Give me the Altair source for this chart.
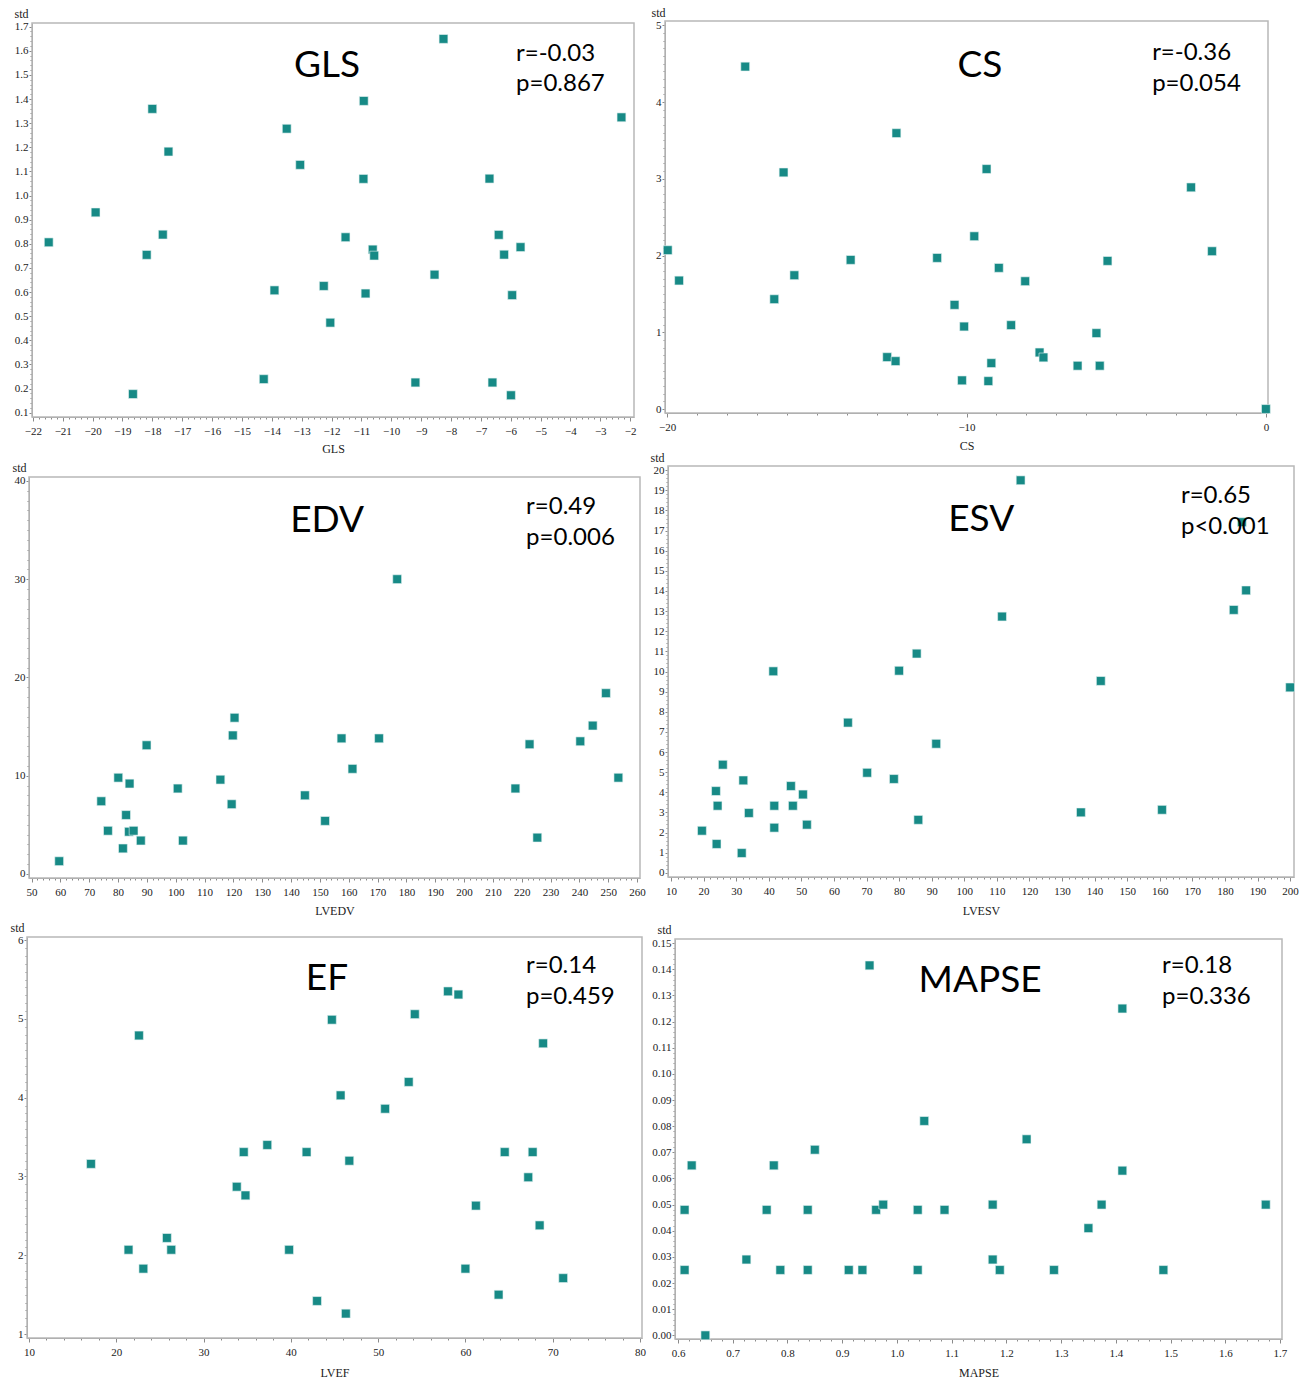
import altair as alt
import pandas as pd

W, H = 1309, 1380
TEAL = "#178a86"

# ---------------- data ----------------
gls_x = [-21.47, -19.9, -18.65, -18.19, -18.0, -17.65, -17.46, -14.27, -13.91, -13.5,
         -13.05, -12.26, -12.04, -11.53, -10.92, -10.93, -10.86, -10.62, -10.57, -9.19,
         -8.55, -8.25, -6.71, -6.61, -6.4, -6.22, -5.99, -5.95, -5.67, -2.29]
gls_std = [0.806, 0.93, 0.177, 0.754, 1.359, 0.838, 1.182, 0.239, 0.607, 1.277,
           1.127, 0.625, 0.473, 0.827, 1.392, 1.069, 0.594, 0.776, 0.751, 0.225,
           0.672, 1.649, 1.070, 0.225, 0.837, 0.755, 0.172, 0.587, 0.786, 1.324]

cs_x = [-19.98, -19.6, -17.39, -16.42, -16.11, -15.75, -13.87, -12.65, -12.37, -12.34,
        -10.98, -10.4, -10.15, -10.08, -9.74, -9.33, -9.27, -9.17, -8.92, -8.51,
        -8.04, -7.56, -7.43, -6.29, -5.66, -5.55, -5.29, -2.5, -1.8, 0.0]
cs_std = [2.07, 1.674, 4.462, 1.431, 3.083, 1.743, 1.943, 0.676, 0.624, 3.595,
          1.969, 1.357, 0.373, 1.075, 2.251, 3.127, 0.364, 0.598, 1.839, 1.093,
          1.665, 0.737, 0.672, 0.564, 0.989, 0.564, 1.93, 2.888, 2.056, 0.0]

edv_x = [59.6, 74.2, 76.5, 80.1, 81.7, 82.8, 84.0, 83.8, 85.4, 87.9,
         89.9, 100.7, 102.5, 115.5, 119.4, 119.8, 120.4, 144.8, 151.8, 157.5,
         161.3, 170.5, 176.8, 217.8, 222.7, 225.4, 240.3, 244.6, 249.2, 253.5]
edv_std = [1.3, 7.4, 4.4, 9.8, 2.6, 6.0, 9.2, 4.3, 4.4, 3.4,
           13.1, 8.7, 3.4, 9.6, 7.1, 14.1, 15.9, 8.0, 5.4, 13.8,
           10.7, 13.8, 30.0, 8.7, 13.2, 3.7, 13.5, 15.1, 18.4, 9.8]

esv_x = [19.5, 23.8, 24.3, 24.0, 25.9, 31.7, 32.2, 33.9, 41.4, 41.7, 41.7,
         46.8, 47.4, 50.5, 51.7, 64.3, 70.2, 78.4, 80.0, 85.4, 85.9, 91.4,
         111.6, 117.3, 135.8, 141.9, 160.7, 182.7, 185.2, 186.5, 200.0]
esv_std = [2.09, 4.06, 3.33, 1.43, 5.37, 0.98, 4.59, 2.97, 10.01, 3.33, 2.24,
           4.31, 3.33, 3.89, 2.39, 7.46, 4.97, 4.66, 10.04, 10.89, 2.63, 6.41,
           12.73, 19.5, 3.0, 9.53, 3.13, 13.06, 17.42, 14.03, 9.21]

ef_x = [17.1, 21.4, 22.6, 23.1, 25.8, 26.3, 33.8, 34.6, 34.8, 37.3, 39.8,
        41.8, 43.0, 44.7, 45.7, 46.3, 46.7, 50.8, 53.5, 54.2, 58.0, 59.2,
        60.0, 61.2, 63.8, 64.5, 67.2, 67.7, 68.5, 68.9, 71.2]
ef_std = [3.16, 2.07, 4.79, 1.83, 2.22, 2.07, 2.87, 3.31, 2.76, 3.40, 2.07,
          3.31, 1.42, 4.99, 4.03, 1.26, 3.20, 3.86, 4.20, 5.06, 5.35, 5.31,
          1.83, 2.63, 1.50, 3.31, 2.99, 3.31, 2.38, 4.69, 1.71]

mapse_x = [0.612, 0.612, 0.625, 0.65, 0.725, 0.762, 0.775, 0.787, 0.837, 0.837, 0.850,
           0.912, 0.937, 0.950, 0.962, 0.975, 1.038, 1.038, 1.050, 1.087, 1.175,
           1.175, 1.188, 1.237, 1.287, 1.350, 1.374, 1.412, 1.412, 1.487, 1.674]
mapse_std = [0.048, 0.025, 0.065, 0.0, 0.029, 0.048, 0.065, 0.025, 0.048, 0.025, 0.071,
             0.025, 0.025, 0.1415, 0.048, 0.050, 0.048, 0.025, 0.082, 0.048, 0.050,
             0.029, 0.025, 0.075, 0.025, 0.041, 0.050, 0.063, 0.125, 0.025, 0.050]

panel_titles = ["GLS", "CS", "EDV", "ESV", "EF", "MAPSE"]
x_titles = ["GLS", "CS", "LVEDV", "LVESV", "LVEF", "MAPSE"]
r_texts = ["r=-0.03", "r=-0.36", "r=0.49", "r=0.65", "r=0.14", "r=0.18"]
p_texts = ["p=0.867", "p=0.054", "p=0.006", "p<0.001", "p=0.459", "p=0.336"]


def ticks(start, stop, step):
    n = int(round((stop - start) / step))
    return [round(start + i * step, 6) for i in range(n + 1)]


def panel(xv, yv, x_dom, x_rng, y_dom, y_rng, x_title, x_major, x_minor, x_fmt,
          y_major, y_minor, y_fmt, std_dx, std_y, xt_dy,
          big, big_xy, r_txt, p_txt, stat_x, r_y, p_y):
    xs = alt.Scale(domain=x_dom, range=x_rng, nice=False, zero=False)
    ys = alt.Scale(domain=y_dom, range=y_rng, nice=False, zero=False)
    x_off = y_rng[0] - H
    y_off = -x_rng[0]
    pts = pd.DataFrame({"v": xv, "std": yv})

    frame_df = pd.DataFrame({"x0": [x_dom[0]], "x1": [x_dom[1]],
                             "y0": [y_dom[0]], "y1": [y_dom[1]]})
    frame = alt.Chart(frame_df).mark_rect(
        fillOpacity=0, stroke="#b8b8b8", strokeWidth=1.5
    ).encode(
        x=alt.X("x0:Q", scale=xs, axis=None), x2="x1:Q",
        y=alt.Y("y0:Q", scale=ys, axis=None), y2="y1:Q",
    )

    minor = alt.Chart(pts).mark_point(opacity=0).encode(
        x=alt.X("v:Q", scale=xs, axis=alt.Axis(
            orient="bottom", offset=x_off, values=x_minor, labels=False,
            domain=False, tickSize=2, title=None)),
        y=alt.Y("std:Q", scale=ys, axis=alt.Axis(
            orient="left", offset=y_off, values=y_minor, labels=False,
            domain=False, tickSize=2, title=None)),
    )

    main = alt.Chart(pts).mark_square(
        size=78, opacity=1, fill=TEAL, stroke="#e8f4f3", strokeWidth=0.6
    ).encode(
        x=alt.X("v:Q", scale=xs, axis=alt.Axis(
            orient="bottom", offset=x_off, values=x_major, format=x_fmt,
            tickSize=4, labelPadding=4, title=x_title, titleY=xt_dy,
            titleBaseline="alphabetic")),
        y=alt.Y("std:Q", scale=ys, axis=alt.Axis(
            orient="left", offset=y_off, values=y_major, format=y_fmt,
            tickSize=3, labelPadding=1, title="std", titleAngle=0,
            titleX=std_dx, titleY=std_y, titleAlign="right",
            titleBaseline="alphabetic")),
    )

    big_df = pd.DataFrame({"x": [big_xy[0]], "y": [big_xy[1]], "t": [big]})
    big_t = alt.Chart(big_df).mark_text(
        font="Lato", fontSize=37, align="center", baseline="alphabetic", color="black"
    ).encode(
        x=alt.X("x:Q", scale=xs, axis=None),
        y=alt.Y("y:Q", scale=ys, axis=None),
        text="t:N",
    )

    stat_df = pd.DataFrame({"x": [stat_x, stat_x], "y": [r_y, p_y], "t": [r_txt, p_txt]})
    stat_t = alt.Chart(stat_df).mark_text(
        font="Lato", fontSize=24, align="left", baseline="alphabetic", color="black"
    ).encode(
        x=alt.X("x:Q", scale=xs, axis=None),
        y=alt.Y("y:Q", scale=ys, axis=None),
        text="t:N",
    )

    return alt.layer(frame, minor, main, big_t, stat_t).resolve_axis(
        x="independent", y="independent")


p1 = panel(gls_x, gls_std, [-22.03, -1.87], [32, 634], [0.082, 1.715], [417, 23],
           x_titles[0], ticks(-22, -2, 1), ticks(-22, -2, 0.2), "d",
           ticks(0.1, 1.7, 0.1), ticks(0.1, 1.7, 0.02), ".1f", -4, 17, 35,
           panel_titles[0], (-12.15, 1.491), r_texts[0], p_texts[0], -5.82, 1.558, 1.433)

p2 = panel(cs_x, cs_std, [-20.07, 0.07], [665, 1268], [-0.052, 5.056], [413, 21],
           x_titles[1], ticks(-20, 0, 10), ticks(-20, 0, 1), "d",
           ticks(0, 5, 1), ticks(0, 5, 0.1), "d", 0, 16, 36,
           panel_titles[1], (-9.55, 4.326), r_texts[1], p_texts[1], -3.80, 4.548, 4.144)

p3 = panel(edv_x, edv_std, [49.13, 261.0], [29, 640], [-0.41, 40.4], [878, 477],
           x_titles[2], ticks(50, 260, 10), ticks(50, 260, 2), "d",
           ticks(0, 40, 10), ticks(0, 40, 1), "d", -3, 471, 36,
           panel_titles[2], (152.5, 34.8), r_texts[2], p_texts[2], 221.5, 36.63, 33.48)

p4 = panel(esv_x, esv_std, [9.08, 201.2], [668, 1294], [-0.21, 20.21], [877, 466],
           x_titles[3], ticks(10, 200, 10), ticks(10, 200, 2), "d",
           ticks(0, 20, 1), ticks(0, 20, 0.2), "d", -4, 461, 37,
           panel_titles[3], (105.2, 16.98), r_texts[3], p_texts[3], 166.5, 18.37, 16.83)

p5 = panel(ef_x, ef_std, [9.77, 80.23], [27, 642], [0.95, 6.04], [1338, 937],
           x_titles[4], ticks(10, 80, 10), ticks(10, 80, 2), "d",
           ticks(1, 6, 1), ticks(1, 6, 0.1), "d", -3, 931, 38,
           panel_titles[4], (44.14, 5.367), r_texts[4], p_texts[4], 66.94, 5.583, 5.19)

p6 = panel(mapse_x, mapse_std, [0.5945, 1.7037], [675, 1282], [-0.0014, 0.1516], [1339, 939],
           x_titles[5], ticks(0.6, 1.7, 0.1), ticks(0.6, 1.7, 0.02), ".1f",
           ticks(0, 0.15, 0.01), ticks(0, 0.15, 0.002), ".2f", -4, 933, 37,
           panel_titles[5], (1.152, 0.1313), r_texts[5], p_texts[5], 1.4845, 0.1386, 0.1267)

chart = alt.layer(p1, p2, p3, p4, p5, p6).resolve_scale(
    x="independent", y="independent"
).resolve_axis(
    x="independent", y="independent"
).properties(
    width=W, height=H, padding=0, autosize=alt.AutoSizeParams(type="none")
).configure_view(
    stroke="transparent"
).configure_axis(
    grid=False, domainColor="#9a9a9a", domainWidth=1, tickColor="#8a8a8a", tickWidth=1,
    labelFont="Liberation Serif", labelFontSize=11, labelColor="#222222",
    titleFont="Liberation Serif", titleFontSize=12, titleColor="#222222",
    titleFontWeight="normal", labelFlush=False, labelOverlap=False, labelBound=False,
)

chart.save("out.html", embed_options={"renderer": "svg", "actions": False})
